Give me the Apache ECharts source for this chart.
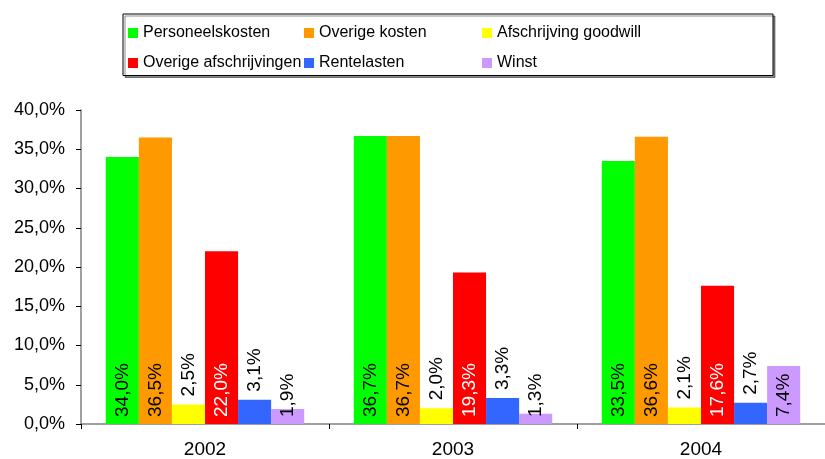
<!DOCTYPE html>
<html>
<head>
<meta charset="utf-8">
<script src="https://cdn.jsdelivr.net/npm/echarts@6/dist/echarts.min.js"></script>
<style>
html,body{margin:0;padding:0;background:#fff;}
#chart{width:825px;height:459px;}
</style>
</head>
<body>
<div id="chart"></div>
<script>
// ---- Data ----
var years = ['2002', '2003', '2004'];
var seriesNames = ['Personeelskosten', 'Overige kosten', 'Afschrijving goodwill',
                   'Overige afschrijvingen', 'Rentelasten', 'Winst'];
var personeelskosten = [34.0, 36.7, 33.5];
var overigeKosten = [36.5, 36.7, 36.6];
var afschrijvingGoodwill = [2.5, 2.0, 2.1];
var overigeAfschrijvingen = [22.0, 19.3, 17.6];
var rentelasten = [3.1, 3.3, 2.7];
var winst = [1.9, 1.3, 7.4];
var yTicks = [0, 5, 10, 15, 20, 25, 30, 35, 40];

// ---- Styles ----
var colors = ['#00FF00', '#FF9900', '#FFFF00', '#FF0000', '#3366FF', '#CC99FF'];
var labelColors = ['#000', '#000', '#000', '#fff', '#000', '#000'];
var labelOutside = [false, false, true, false, true, false];
var FONT = '"Liberation Sans", Arial, sans-serif';
var allValues = [personeelskosten, overigeKosten, afschrijvingGoodwill,
                 overigeAfschrijvingen, rentelasten, winst];

function fmt(v) { return v.toFixed(1).replace('.', ',') + '%'; }

var series = seriesNames.map(function (name, i) {
  return {
    name: name,
    type: 'bar',
    data: allValues[i],
    barGap: '0%',
    barCategoryGap: '20%',
    itemStyle: { color: colors[i] },
    label: {
      show: true,
      position: labelOutside[i] ? 'top' : 'insideBottom',
      distance: labelOutside[i] ? 8 : 7,
      rotate: 90,
      align: 'left',
      verticalAlign: 'middle',
      color: labelColors[i],
      fontSize: 19,
      fontFamily: FONT,
      formatter: function (p) { return fmt(p.value); }
    }
  };
});

// legend layout: 3 columns x 2 rows
var legendCols = [128, 304, 482];
var legendRows = [25, 55];
var legends = seriesNames.map(function (name, i) {
  return {
    data: [name],
    left: legendCols[i % 3],
    top: legendRows[Math.floor(i / 3)],
    padding: 0,
    itemWidth: 10,
    itemHeight: 10,
    itemGap: 0,
    icon: 'rect',
    selectedMode: false,
    textStyle: { fontSize: 16, color: '#000', fontFamily: FONT, lineHeight: 16 }
  };
});

var chart = echarts.init(document.getElementById('chart'), null, { renderer: 'canvas' });
chart.setOption({
  animation: false,
  backgroundColor: '#fff',
  textStyle: { fontFamily: FONT },
  graphic: [{
    type: 'rect',
    shape: { x: 123, y: 14, width: 650, height: 61.5 },
    style: {
      fill: '#fff', stroke: '#000', lineWidth: 1,
      shadowColor: 'rgba(0,0,0,0.45)', shadowOffsetX: 2, shadowOffsetY: 2, shadowBlur: 0
    },
    z: -1
  }],
  legend: legends,
  grid: { left: 81, top: 110, width: 753, bottom: 35, containLabel: false },
  xAxis: {
    type: 'category',
    data: years,
    axisLine: { show: true, lineStyle: { color: '#808080', width: 1.5 } },
    axisTick: { show: true, length: 5, lineStyle: { color: '#000' } },
    axisLabel: { fontSize: 19, color: '#000', fontFamily: FONT, margin: 16 },
    splitLine: { show: false }
  },
  yAxis: {
    type: 'value',
    min: yTicks[0],
    max: yTicks[yTicks.length - 1],
    interval: yTicks[1] - yTicks[0],
    axisLine: { show: true, lineStyle: { color: '#808080', width: 1.5 } },
    axisTick: { show: true, length: 5, lineStyle: { color: '#000' } },
    axisLabel: { fontSize: 18, color: '#000', fontFamily: FONT, margin: 16,
                 formatter: function (v) { return fmt(v); } },
    splitLine: { show: false }
  },
  series: series
});
</script>
</body>
</html>
